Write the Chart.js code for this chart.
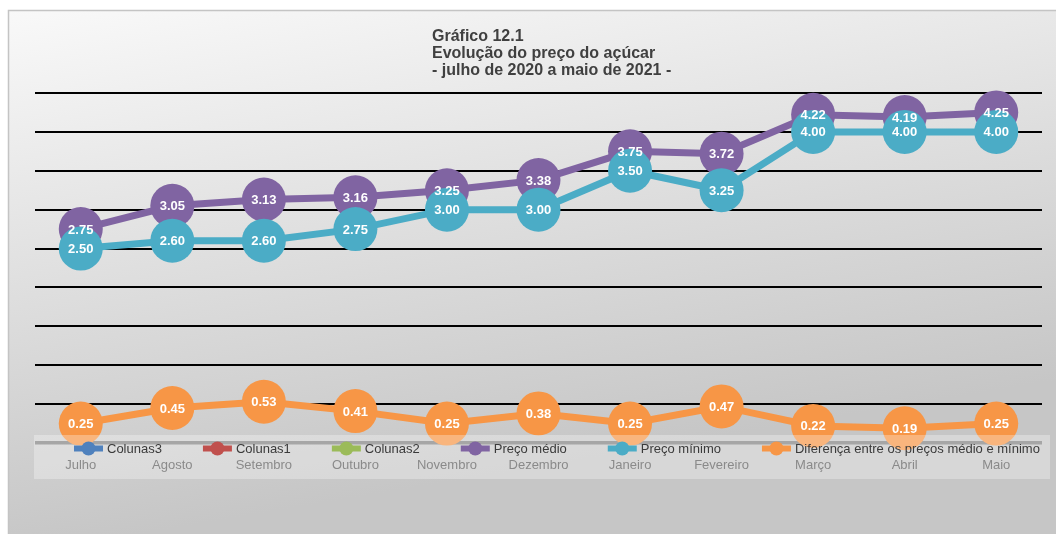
<!DOCTYPE html>
<html><head><meta charset="utf-8">
<script src="https://cdn.jsdelivr.net/npm/chart.js@4/dist/chart.umd.min.js"></script>
<style>html,body{margin:0;padding:0;background:#fff}#wrap{width:1056px;height:534px;position:relative}</style>
</head><body><div id="wrap"><canvas id="c" width="1056" height="534"></canvas></div>
<script>
const categories = ['Julho','Agosto','Setembro','Outubro','Novembro','Dezembro','Janeiro','Fevereiro','Março','Abril','Maio'];
const precoMedio = [2.75,3.05,3.13,3.16,3.25,3.38,3.75,3.72,4.22,4.19,4.25];
const precoMinimo = [2.50,2.60,2.60,2.75,3.00,3.00,3.50,3.25,4.00,4.00,4.00];
const diferenca = [0.25,0.45,0.53,0.41,0.25,0.38,0.25,0.47,0.22,0.19,0.25];
const colunas3 = [];
const colunas1 = [];
const colunas2 = [];
const seriesNames = ['Colunas3','Colunas1','Colunas2','Preço médio','Preço mínimo','Diferença entre os preços médio e mínimo'];
const titleLines = ['Gráfico 12.1','Evolução do preço do açúcar','- julho de 2020 a maio de 2021 -'];
const yMin = 0, yMax = 4.5, yStep = 0.5;

const FONT = "'Liberation Sans', Arial, Helvetica, sans-serif";
const COLORS = ['#4F81BD','#C0504D','#9BBB59','#8064A2','#4BACC6','#F79646'];

function lineDs(label, data, color, order) {
  return {
    label, data, order,
    borderColor: color, backgroundColor: color,
    pointBackgroundColor: color, pointBorderColor: color,
    pointBorderWidth: 0, pointRadius: 22, pointHoverRadius: 22,
    borderWidth: 7, tension: 0, clip: false, fill: false
  };
}

const datasets = [
  lineDs(seriesNames[0], colunas3, COLORS[0], 6),
  lineDs(seriesNames[1], colunas1, COLORS[1], 5),
  lineDs(seriesNames[2], colunas2, COLORS[2], 4),
  lineDs(seriesNames[3], precoMedio, COLORS[3], 3),
  lineDs(seriesNames[4], precoMinimo, COLORS[4], 2),
  lineDs(seriesNames[5], diferenca, COLORS[5], 1)
];

const backgroundPlugin = {
  id: 'bg',
  beforeDraw(chart) {
    const ctx = chart.ctx;
    ctx.save();
    ctx.fillStyle = '#ffffff';
    ctx.fillRect(0, 0, chart.width, chart.height);
    const g = ctx.createLinearGradient(8, 10, 97, 541);
    g.addColorStop(0, '#f9f9f9');
    g.addColorStop(1, '#c6c6c6');
    ctx.fillStyle = g;
    ctx.fillRect(8, 10, chart.width - 8, chart.height - 10);
    ctx.strokeStyle = '#c4c4c4';
    ctx.lineWidth = 1.5;
    ctx.beginPath();
    ctx.moveTo(8.5, chart.height);
    ctx.lineTo(8.5, 10.5);
    ctx.lineTo(chart.width, 10.5);
    ctx.stroke();
    ctx.restore();
  }
};

const overlayPlugin = {
  id: 'overlay',
  afterDatasetsDraw(chart) {
    const ctx = chart.ctx;
    ctx.save();
    // value labels
    ctx.font = 'bold 13px ' + FONT;
    ctx.fillStyle = '#ffffff';
    ctx.textAlign = 'center';
    ctx.textBaseline = 'middle';
    [3, 4, 5].forEach(i => {
      const meta = chart.getDatasetMeta(i);
      const data = chart.data.datasets[i].data;
      meta.data.forEach((pt, j) => {
        ctx.fillText(Number(data[j]).toFixed(2), pt.x, pt.y + 1);
      });
    });
    // legend band
    ctx.fillStyle = 'rgba(255,255,255,0.3)';
    ctx.fillRect(34, 435, 1016, 44);
    // legend
    ctx.font = '13px ' + FONT;
    ctx.textAlign = 'left';
    ctx.textBaseline = 'alphabetic';
    let x = 74;
    const cy = 448.5;
    chart.data.datasets.forEach(ds => {
      ctx.strokeStyle = ds.borderColor;
      ctx.lineWidth = 6;
      ctx.beginPath();
      ctx.moveTo(x, cy);
      ctx.lineTo(x + 29, cy);
      ctx.stroke();
      ctx.fillStyle = ds.borderColor;
      ctx.beginPath();
      ctx.arc(x + 14.5, cy, 7, 0, Math.PI * 2);
      ctx.fill();
      ctx.fillStyle = '#3a3a3a';
      const tx = x + 33;
      ctx.fillText(ds.label, tx, 453);
      x = tx + ctx.measureText(ds.label).width + 41;
    });
    // title
    ctx.font = 'bold 16px ' + FONT;
    ctx.fillStyle = '#404040';
    titleLines.forEach((t, k) => ctx.fillText(t, 432, 41 + k * 17));
    ctx.restore();
  }
};

new Chart(document.getElementById('c'), {
  type: 'line',
  data: { labels: categories, datasets },
  options: {
    responsive: false,
    animation: false,
    devicePixelRatio: 1,
    layout: { autoPadding: false, padding: { left: 35, right: 14, top: 93, bottom: 45.4 } },
    plugins: { legend: { display: false }, tooltip: { enabled: false }, title: { display: false } },
    scales: {
      x: {
        type: 'category', offset: true, position: 'bottom',
        grid: { display: false, drawTicks: false },
        border: { display: false },
        ticks: { z: 1, padding: 15, color: '#8a8a8a', font: { family: FONT, size: 13 }, maxRotation: 0, autoSkip: false },
        afterFit: s => { s.paddingLeft = 0; s.paddingRight = 0; }
      },
      y: {
        min: yMin, max: yMax,
        ticks: { display: false, stepSize: yStep },
        border: { display: false },
        grid: {
          drawTicks: false,
          color: c => (c.tick && c.tick.value === 0) ? '#808080' : '#000000',
          lineWidth: c => (c.tick && c.tick.value === 0) ? 3.5 : 2
        }
      }
    }
  },
  plugins: [backgroundPlugin, overlayPlugin]
});
</script>
</body></html>
